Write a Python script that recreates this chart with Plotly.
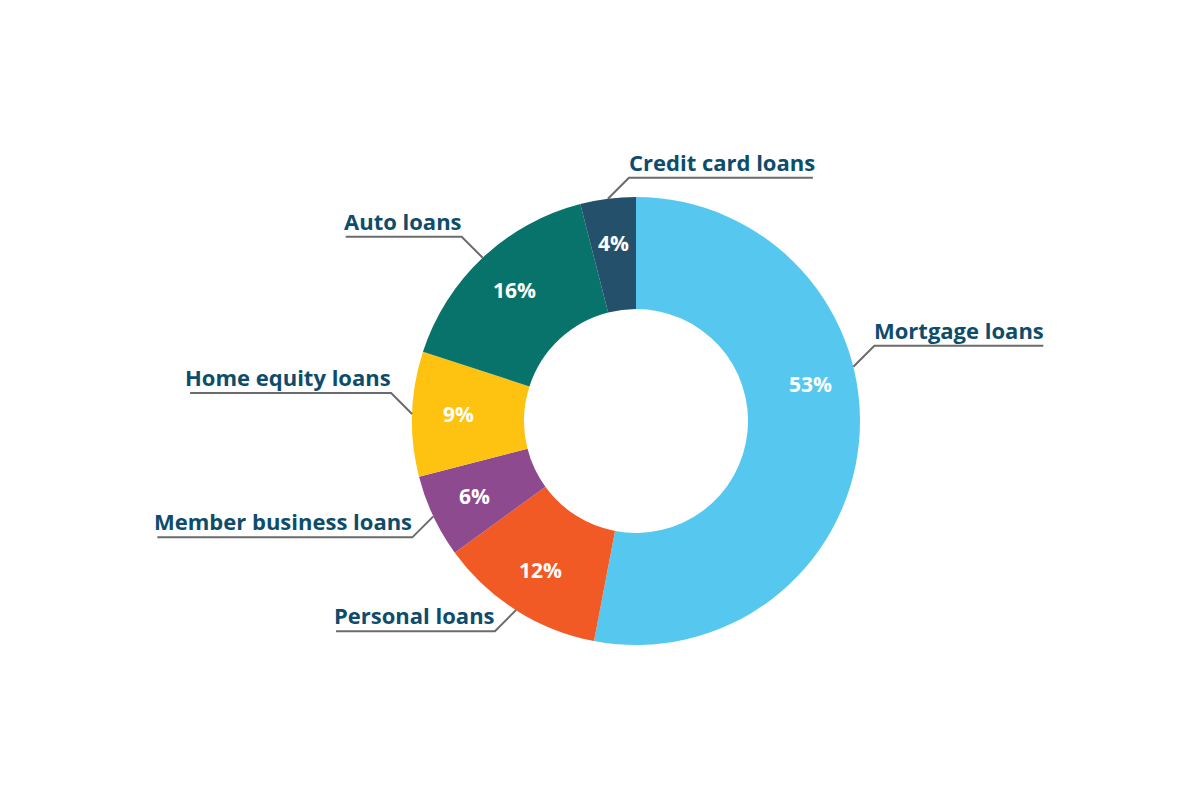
import math
import plotly.graph_objects as go

# ---- data ----
categories = ["Mortgage loans", "Personal loans", "Member business loans",
              "Home equity loans", "Auto loans", "Credit card loans"]
shares = [53, 12, 6, 9, 16, 4]
colors = ["#56C8F0", "#F15A24", "#8E4A8E", "#FEC211", "#08736B", "#24506C"]

# ---- layout constants (pixels, page coordinates) ----
W, H = 1200, 800
OFF = 8  # default body margin of the page
CX, CY, R = 636, 421, 224
TEXT_COLOR = "#0E4C6B"
LINE_COLOR = "#6B6B6B"
FONT = "Open Sans"

# label placement: side of text, underline length, angle overrides (deg)
label_side = {"Mortgage loans": 1, "Personal loans": -1, "Member business loans": -1,
              "Home equity loans": -1, "Auto loans": -1, "Credit card loans": 1}
label_up = {"Mortgage loans": True, "Personal loans": False, "Member business loans": False,
            "Home equity loans": True, "Auto loans": True, "Credit card loans": True}
underline_len = {"Mortgage loans": 169, "Personal loans": 159, "Member business loans": 255,
                 "Home equity loans": 201, "Auto loans": 116, "Credit card loans": 184}
leader_angle_override = {"Mortgage loans": 76}
pct_angle_override = {"Mortgage loans": 78.5}


def px(x):
    return (x - OFF) / W


def py(y):
    return 1 - (y - OFF) / H


fig = go.Figure(go.Pie(
    labels=categories, values=shares, hole=0.5, sort=False,
    direction="clockwise", rotation=0,
    marker=dict(colors=colors, line=dict(width=0)),
    textinfo="none", hoverinfo="label+percent", showlegend=False,
    domain=dict(x=[px(CX - R), px(CX + R)], y=[py(CY + R), py(CY - R)]),
))

total = sum(shares)
annotations = []
shapes = []
start = 0.0
for cat, v in zip(categories, shares):
    frac = v / total
    mid = (start + frac / 2) * 360
    start += frac

    # percentage label inside the ring
    a = math.radians(pct_angle_override.get(cat, mid))
    rr = R * 0.795
    annotations.append(dict(
        x=px(CX + rr * math.sin(a)), y=py(CY - rr * math.cos(a) - 1),
        xref="paper", yref="paper", showarrow=False,
        text=f"{round(frac * 100)}%",
        font=dict(family=FONT, size=21, color="white", weight=700),
        xanchor="center", yanchor="middle"))

    # leader line
    la = math.radians(leader_angle_override.get(cat, mid))
    ax, ay = CX + R * math.sin(la), CY - R * math.cos(la)
    sx = label_side[cat]
    sy = -1 if label_up[cat] else 1
    ex, ey = ax + sx * 21, ay + sy * 21
    fx = ex + sx * underline_len[cat]
    path = f"M {px(ax)} {py(ay)} L {px(ex)} {py(ey)} L {px(fx)} {py(ey)}"
    shapes.append(dict(type="path", path=path, xref="paper", yref="paper",
                       line=dict(color=LINE_COLOR, width=2)))
    annotations.append(dict(
        x=px(ex), y=py(ey + 1), xref="paper", yref="paper", showarrow=False,
        text=cat, font=dict(family=FONT, size=22, color=TEXT_COLOR, weight=700),
        xanchor="left" if sx > 0 else "right", yanchor="bottom",
        xshift=-2 * sx))

fig.update_layout(
    width=W, height=H, margin=dict(l=0, r=0, t=0, b=0),
    paper_bgcolor="white", plot_bgcolor="white",
    annotations=annotations, shapes=shapes,
)

fig.write_html("out.html")
